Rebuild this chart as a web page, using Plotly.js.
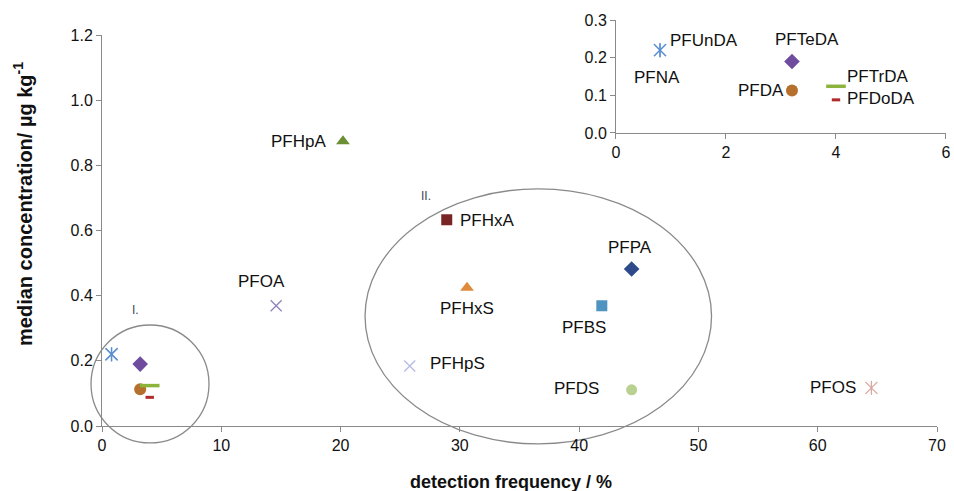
<!DOCTYPE html>
<html>
<head>
<meta charset="utf-8">
<script src="https://cdn.plot.ly/plotly-3.0.1.min.js"></script>
<style>html,body{margin:0;padding:0;background:#fff}#chart{width:954px;height:491px}</style>
</head>
<body>
<div id="chart"></div>
<script>
// ---- data ----
var compounds = ['PFNA','PFUnDA','PFTeDA','PFDA','PFTrDA','PFDoDA','PFOA','PFHpA','PFHxA','PFHxS','PFPA','PFBS','PFHpS','PFDS','PFOS'];
var detectionFreq = [0.8, 0.8, 3.2, 3.2, 4.0, 4.0, 14.6, 20.2, 28.9, 30.6, 44.4, 41.9, 25.8, 44.4, 64.5];
var medianConc = [0.22, 0.22, 0.19, 0.113, 0.124, 0.088, 0.369, 0.874, 0.633, 0.424, 0.482, 0.369, 0.184, 0.111, 0.117];
var insetCompounds = ['PFNA','PFUnDA','PFTeDA','PFDA','PFTrDA','PFDoDA'];
var clusterNames = ['I.', 'II.'];
var xTicks = [0, 10, 20, 30, 40, 50, 60, 70];
var yTicks = [0.0, 0.2, 0.4, 0.6, 0.8, 1.0, 1.2];
var insetXTicks = [0, 2, 4, 6];
var insetYTicks = [0.0, 0.1, 0.2, 0.3];

// ---- styles ----
var FONT = 'Liberation Sans, Arial, sans-serif';
// 'star6' = six-armed asterisk drawn as an x plus a vertical stroke
var styles = {
  PFNA:   {symbol:'star6', color:'#5b8fd0', size:12, lw:1.3},
  PFUnDA: {symbol:'star6', color:'#5b8fd0', size:12, lw:1.3},
  PFTeDA: {symbol:'diamond', color:'#6f4c9e', size:12},
  PFDA:   {symbol:'circle', color:'#b5702d', size:12},
  PFTrDA: {symbol:'line-ew-open', color:'#8cb43c', size:14, lw:3.5},
  PFDoDA: {symbol:'line-ew-open', color:'#b02a2a', size:6, lw:3},
  PFOA:   {symbol:'x-thin-open', color:'#9080c0', size:11, lw:1.3},
  PFHpA:  {symbol:'triangle-up', color:'#6a8f35', size:12},
  PFHxA:  {symbol:'square', color:'#7a2525', size:11},
  PFHxS:  {symbol:'triangle-up', color:'#e08a3c', size:12},
  PFPA:   {symbol:'diamond', color:'#2f4a8a', size:12},
  PFBS:   {symbol:'square', color:'#4f93c0', size:11},
  PFHpS:  {symbol:'x-thin-open', color:'#b3bbe2', size:11, lw:1.3},
  PFDS:   {symbol:'circle', color:'#b8d090', size:11},
  PFOS:   {symbol:'star6', color:'#d8a8a0', size:12, lw:1.3}
};
// label offsets in px
var mainLabelShift = {
  PFOA:[-15,24], PFHpA:[-44,0], PFHxA:[41,-1], PFHxS:[0,-21], PFPA:[-2,21],
  PFBS:[-18,-22], PFHpS:[48,3], PFDS:[-55,1], PFOS:[-38,0]
};
var insetLabelShift = {
  PFUnDA:[44,10], PFNA:[-3,-27], PFTeDA:[15,22], PFDA:[-31,0], PFTrDA:[42,10], PFDoDA:[45,1]
};
// ellipse extents in data units of main axes
var clusterBounds = [[-0.92, 8.97, -0.052, 0.31], [22.05, 51.1, -0.055, 0.728]];
var clusterLabelPos = [[2.77, 0.356], [27.2, 0.706]];

var xRange = [0, 70], yRange = [0, 1.2];
var xDom = [0, 0.98934], yDom = [0, 0.963];

var traces = [];
function addMarker(c, xa, ya) {
  var i = compounds.indexOf(c);
  var s = styles[c];
  var parts = s.symbol === 'star6'
    ? [{symbol:'x-thin-open', size:s.size}, {symbol:'line-ns-open', size:s.size - 2}]
    : [{symbol:s.symbol, size:s.size}];
  parts.forEach(function(p) {
    traces.push({
      type:'scatter', mode:'markers', name:c, showlegend:false, cliponaxis:false,
      x:[detectionFreq[i]], y:[medianConc[i]], xaxis:xa, yaxis:ya,
      marker:{symbol:p.symbol, color:s.color, size:p.size, line:{color:s.color, width:s.lw || 0}}
    });
  });
}
compounds.forEach(function(c) { addMarker(c, 'x', 'y'); });
insetCompounds.forEach(function(c) { addMarker(c, 'x2', 'y2'); });

var annotations = [];
Object.keys(mainLabelShift).forEach(function(c) {
  var i = compounds.indexOf(c);
  annotations.push({x:detectionFreq[i], y:medianConc[i], xref:'x', yref:'y', text:c, showarrow:false,
    xshift:mainLabelShift[c][0], yshift:mainLabelShift[c][1], font:{family:FONT, size:17, color:'#111'}});
});
Object.keys(insetLabelShift).forEach(function(c) {
  var i = compounds.indexOf(c);
  annotations.push({x:detectionFreq[i], y:medianConc[i], xref:'x2', yref:'y2', text:c, showarrow:false,
    xshift:insetLabelShift[c][0], yshift:insetLabelShift[c][1], font:{family:FONT, size:17, color:'#111'}});
});
clusterNames.forEach(function(n, k) {
  annotations.push({x:clusterLabelPos[k][0], y:clusterLabelPos[k][1], xref:'x', yref:'y', text:n, showarrow:false,
    font:{family:FONT, size:12, color:'#3a4558'}});
});
// axis titles
annotations.push({xref:'paper', yref:'paper', x:0.485, y:-0.138, yanchor:'middle', showarrow:false,
  text:'<b>detection frequency / %</b>', font:{family:FONT, size:18, color:'#111'}});
annotations.push({xref:'paper', yref:'paper', x:-0.094, y:0.546, xanchor:'center', yanchor:'middle', showarrow:false, textangle:-90,
  text:'<b>median concentration/ µg kg<sup>-1</sup></b>', font:{family:FONT, size:20, color:'#111'}});

function px(v){ return xDom[0] + (v - xRange[0]) / (xRange[1]-xRange[0]) * (xDom[1]-xDom[0]); }
function py(v){ return yDom[0] + (v - yRange[0]) / (yRange[1]-yRange[0]) * (yDom[1]-yDom[0]); }
var shapes = clusterBounds.map(function(b) {
  return {type:'circle', xref:'paper', yref:'paper', x0:px(b[0]), x1:px(b[1]), y0:py(b[2]), y1:py(b[3]),
    line:{color:'#8a8a8a', width:1.3}, layer:'below'};
});

var axisCommon = {showgrid:false, zeroline:false, showline:true, linecolor:'#8a8a8a', linewidth:1,
  ticks:'outside', ticklen:5, tickcolor:'#8a8a8a', tickfont:{family:FONT, size:16, color:'#111'}, fixedrange:true};

var layout = {
  width:954, height:491,
  margin:{l:102, r:8, t:20, b:65},
  paper_bgcolor:'#fff', plot_bgcolor:'rgba(0,0,0,0)',
  xaxis:Object.assign({}, axisCommon, {range:xRange, domain:xDom, tickvals:xTicks, ticktext:xTicks.map(String), anchor:'y'}),
  yaxis:Object.assign({}, axisCommon, {range:yRange, domain:yDom, tickvals:yTicks, ticktext:yTicks.map(function(v){return v.toFixed(1);}), anchor:'x'}),
  xaxis2:Object.assign({}, axisCommon, {range:[0,6], domain:[0.609, 1.0], tickvals:insetXTicks, ticktext:insetXTicks.map(String), anchor:'y2'}),
  yaxis2:Object.assign({}, axisCommon, {range:[0,0.3], domain:[0.7217, 1.0], tickvals:insetYTicks, ticktext:insetYTicks.map(function(v){return v.toFixed(1);}), anchor:'x2'}),
  annotations:annotations,
  shapes:shapes,
  showlegend:false
};

Plotly.newPlot('chart', traces, layout, {staticPlot:true, displayModeBar:false});
</script>
</body>
</html>
